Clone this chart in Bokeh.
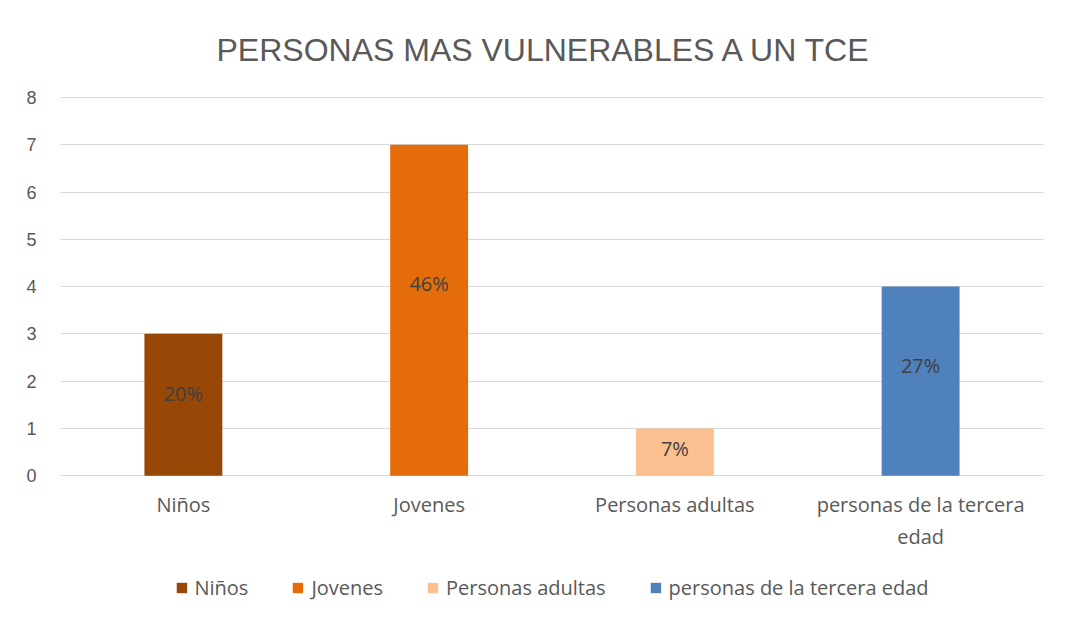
from bokeh.plotting import figure
from bokeh.models import ColumnDataSource, Range1d, FixedTicker, Legend, LegendItem, LabelSet
from bokeh.embed import file_html
from bokeh.resources import INLINE
from bokeh.core.properties import value

categories = ["Niños", "Jovenes", "Personas adultas", "personas de la tercera edad"]
label_line1 = ["Niños", "Jovenes", "Personas adultas", "personas de la tercera"]
label_line2 = ["", "", "", "edad"]
counts = [3, 7, 1, 4]
percent_labels = ["20%", "46%", "7%", "27%"]
colors = ["#974706", "#E46C0A", "#FAC090", "#4F81BD"]
y_ticks = [0, 1, 2, 3, 4, 5, 6, 7, 8]

label_frac = 0.58
source = ColumnDataSource(dict(
    cat=categories,
    line1=label_line1,
    line2=label_line2,
    val=counts,
    lbl=percent_labels,
    color=colors,
    lbl_y=[v * label_frac for v in counts],
    base=[0] * len(counts),
))

p = figure(
    x_range=categories,
    y_range=Range1d(-3.0, 8.02),
    frame_width=983, frame_height=521,
    output_backend="svg", toolbar_location=None,
    x_axis_location=None,
    min_border_left=60, min_border_right=17, min_border_top=96, min_border_bottom=0,
    title="PERSONAS MAS VULNERABLES A UN TCE",
)

p.title.align = "left"
p.title.offset = 156
p.title.standoff = 58
p.title.text_font = "Liberation Sans"
p.title.text_font_size = "32px"
p.title.text_font_style = "normal"
p.title.text_color = "#595959"

r = p.vbar(x="cat", top="val", width=0.317, color="color", line_color=None, source=source)

labels = LabelSet(x="cat", y="lbl_y", text="lbl", source=source,
                  text_align="center", text_baseline="middle",
                  text_font=value("Open Sans"), text_font_size="20px", text_color="#404040")
p.add_layout(labels)

for col, off in (("line1", -15), ("line2", -47)):
    p.add_layout(LabelSet(x="cat", y="base", text=col, source=source,
                          text_align="center", text_baseline="top", y_offset=off,
                          text_font=value("Open Sans"), text_font_size="20px",
                          text_color="#595959"))

p.outline_line_color = None
p.background_fill_color = "white"
p.border_fill_color = "white"

p.xgrid.grid_line_color = None
p.ygrid.grid_line_color = "#d9d9d9"
p.ygrid.grid_line_width = 1

p.yaxis.ticker = FixedTicker(ticks=y_ticks)
p.yaxis.axis_line_color = None
p.yaxis.major_tick_line_color = None
p.yaxis.minor_tick_line_color = None
p.yaxis.major_label_text_font = "Liberation Sans"
p.yaxis.major_label_text_font_size = "18px"
p.yaxis.major_label_text_color = "#595959"
p.yaxis.major_label_standoff = 18

items = [LegendItem(label=c, renderers=[r], index=i) for i, c in enumerate(categories)]
legend = Legend(items=items, orientation="horizontal", location="bottom_center",
                label_text_font="Open Sans", label_text_font_size="20px",
                label_text_color="#595959", glyph_width=13, glyph_height=13,
                label_standoff=7, spacing=43, border_line_color=None,
                background_fill_alpha=0, margin=16, padding=0)
p.add_layout(legend)

open("out.html", "w").write(file_html(p, INLINE))
